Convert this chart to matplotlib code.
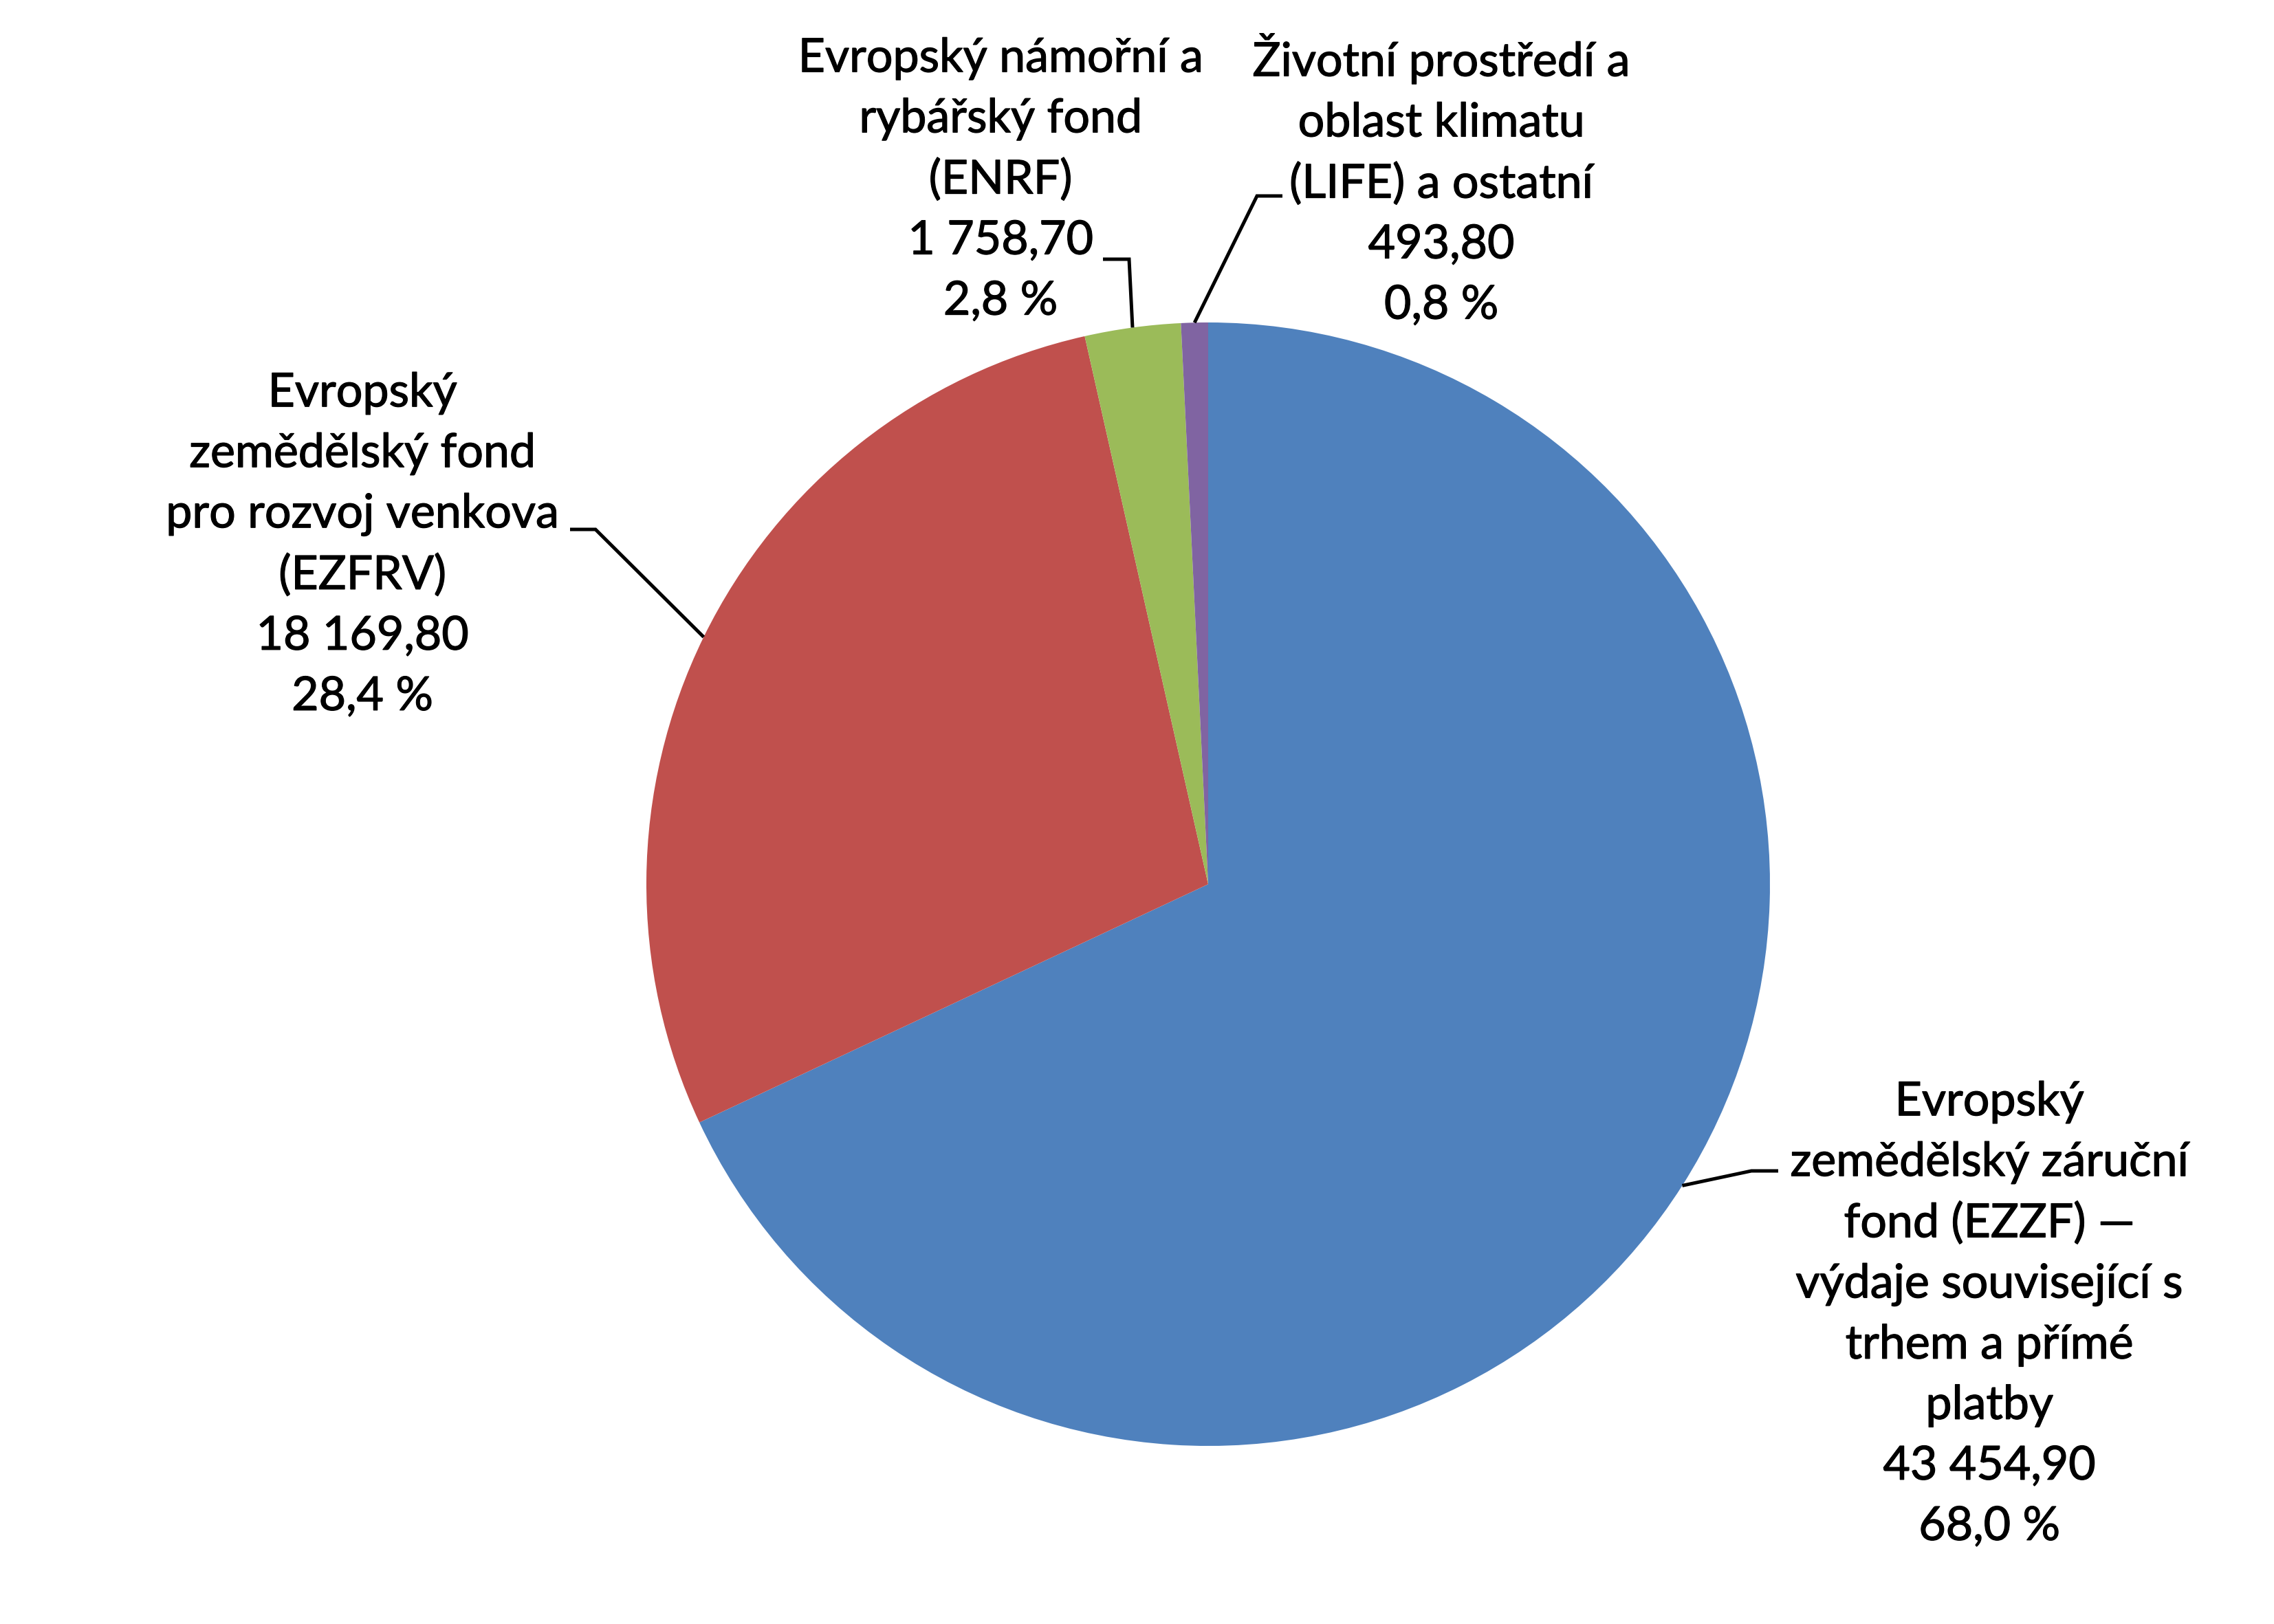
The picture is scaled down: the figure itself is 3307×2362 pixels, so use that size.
import matplotlib
matplotlib.use("Agg")
import matplotlib.pyplot as plt
import matplotlib.patheffects as pe
import numpy as np

# ---- data ----
categories = [
    "Evropský\nzemědělský záruční\nfond (EZZF) —\nvýdaje související s\ntrhem a přímé\nplatby",
    "Evropský\nzemědělský fond\npro rozvoj venkova\n(EZFRV)",
    "Evropský námořní a\nrybářský fond\n(ENRF)",
    "Životní prostředí a\noblast klimatu\n(LIFE) a ostatní",
]
values = [43454.90, 18169.80, 1758.70, 493.80]
value_labels = ["43 454,90", "18 169,80", "1 758,70", "493,80"]
pct_labels = ["68,0 %", "28,4 %", "2,8 %", "0,8 %"]
colors = ["#4F81BD", "#C0504D", "#9BBB59", "#8064A2"]

W, H = 3307, 2362
fig = plt.figure(figsize=(W / 100, H / 100), dpi=100)
ax = fig.add_axes([0, 0, 1, 1])

cx, cy, R = 1757, H - 1286, 817
wedges, _ = ax.pie(values, colors=colors, startangle=90, counterclock=False,
                   radius=R, center=(cx, cy), frame=True,
                   wedgeprops=dict(linewidth=0))
ax.set_xlim(0, W)
ax.set_ylim(0, H)
ax.set_aspect("equal")
ax.axis("off")

# label layout (pixel positions, top-origin y): text center, elbow, line end
layout = [
    dict(txt=(2893, 1912), elbow=(2547, 1703), end=(2586, 1703)),
    dict(txt=(527, 793), elbow=(866, 770), end=(829, 770)),
    dict(txt=(1455, 262), elbow=(1642, 377), end=(1604, 377)),
    dict(txt=(2096, 262), elbow=(1828, 285), end=(1865, 285)),
]

font = dict(family=["Lato", "DejaVu Sans"], fontsize=49)
for i, w in enumerate(wedges):
    lab = f"{categories[i]}\n{value_labels[i]}\n{pct_labels[i]}"
    L = layout[i]
    ax.text(L["txt"][0], H - L["txt"][1], lab, ha="center", va="center",
            multialignment="center", linespacing=1.52, color="black",
            path_effects=[pe.withStroke(linewidth=0.9, foreground="black")],
            **font)
    mid = np.deg2rad((w.theta1 + w.theta2) / 2)
    ex, ey = cx + R * np.cos(mid), cy + R * np.sin(mid)
    ax.plot([ex, L["elbow"][0], L["end"][0]],
            [ey, H - L["elbow"][1], H - L["end"][1]],
            color="black", lw=3.6, solid_capstyle="butt",
            solid_joinstyle="miter")

fig.savefig("out.png", dpi=100, facecolor="white")
